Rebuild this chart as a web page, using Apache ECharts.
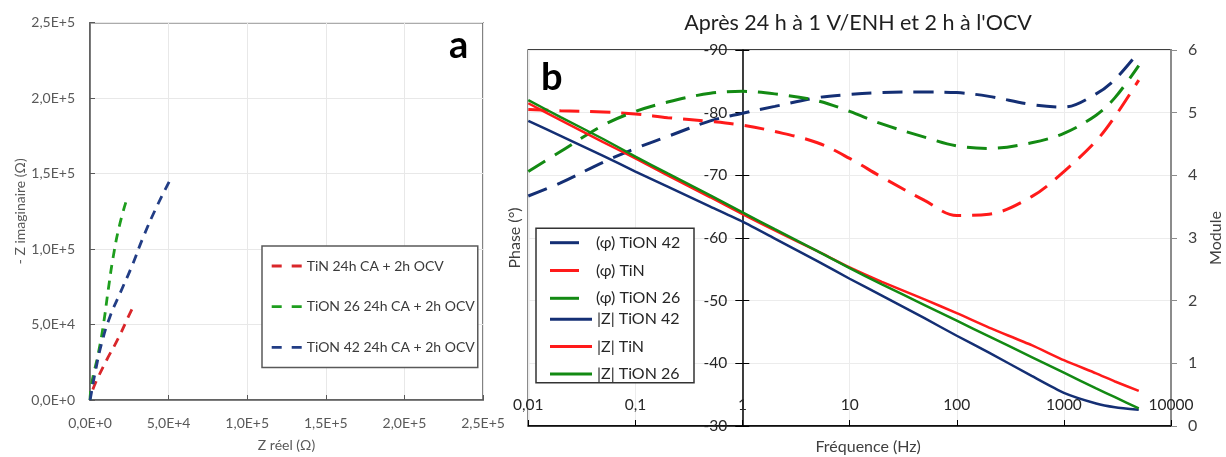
<!DOCTYPE html>
<html><head><meta charset="utf-8">
<script src="https://cdn.jsdelivr.net/npm/echarts@6/dist/echarts.min.js"></script>
<style>html,body{margin:0;padding:0;background:#fff}#c{width:1226px;height:457px}</style>
</head><body><div id="c"></div>
<script>
// ---------- Panel a : Nyquist ----------
const nyqTickLabels = ['0,0E+0','5,0E+4','1,0E+5','1,5E+5','2,0E+5','2,5E+5'];
const nyqNames = ['TiN 24h CA + 2h OCV','TiON 26 24h CA + 2h OCV','TiON 42 24h CA + 2h OCV'];
const nyqTiN   = [[1800,7000],[4300,13200],[10600,26500],[18000,40900],[24400,55200],[28200,63400]];
const nyqTiON26= [[0,0],[1100,11000],[5300,31000],[8500,49700],[11600,73000],[14800,95000],[18600,115000],[22900,131300]];
const nyqTiON42= [[0,0],[450,2200],[3200,17700],[7400,37500],[12700,55200],[19100,70700],[26500,88300],[33900,108000],[42400,128000],[50900,145700]];

// ---------- Panel b : Bode ----------
const freqTickLabels = ['0,01','0,1','1','10','100','1000','10000'];
const freqs = [0.01,0.02,0.05,0.1,0.2,0.5,1,2,5,10,20,50,100,200,500,1000,2000,3000,5000];
const phaseTiON42 = [-66.7,-68.8,-72.1,-74.3,-76.2,-78.7,-79.9,-81.0,-82.4,-82.9,-83.2,-83.3,-83.2,-82.6,-81.3,-80.9,-83.0,-85.3,-89.7];
const phaseTiN    = [-80.5,-80.3,-80.1,-79.8,-79.2,-78.6,-78.0,-77.0,-75.2,-72.7,-69.7,-66.0,-63.6,-63.8,-66.6,-70.6,-75.5,-79.4,-85.2];
const phaseTiON26 = [-70.6,-73.8,-78.0,-80.2,-81.7,-83.1,-83.4,-83.0,-81.9,-80.2,-78.2,-76.1,-74.7,-74.3,-75.2,-76.7,-79.6,-82.4,-87.5];
const modTiON42 = [4.87,4.63,4.31,4.06,3.82,3.50,3.26,2.99,2.63,2.35,2.08,1.72,1.44,1.17,0.80,0.53,0.36,0.30,0.26];
const modTiN    = [5.15,4.88,4.53,4.27,4.00,3.65,3.38,3.12,2.79,2.53,2.30,2.02,1.80,1.57,1.29,1.05,0.84,0.71,0.56];
const modTiON26 = [5.20,4.93,4.58,4.30,4.03,3.68,3.41,3.14,2.79,2.52,2.26,1.93,1.68,1.43,1.10,0.85,0.60,0.46,0.28];
const bodeNamesPhase = ['(φ) TiON 42','(φ) TiN','(φ) TiON 26'];
const bodeNamesMod = ['|Z| TiON 42','|Z| TiN','|Z| TiON 26'];

const FF = 'Lato, "Noto Sans", sans-serif';
const navyA='#223d85', redA='#d9262a', greenA='#1e9e1e';
const navyB='#142f74', redB='#ff1a1a', greenB='#138a13';
const pair = arr => freqs.map((f,i)=>[f, arr[i]]);

const chart = echarts.init(document.getElementById('c'), null, {renderer:'canvas'});
const phaseDash = {type:[20,11], width:3, cap:'butt'};
const nyqDash = {type:[9,7], width:2.8, cap:'butt'};

const option = {
  animation:false,
  backgroundColor:'#fff',
  textStyle:{fontFamily:FF},
  title:[
    {text:"Après 24 h à 1 V/ENH et 2 h à l'OCV", left:858, top:12, textAlign:'center', padding:0,
     textStyle:{fontSize:21.5, fontWeight:'normal', color:'#1f1f1f', fontFamily:FF}},
    {text:'a', left:449, top:27, padding:0, textStyle:{fontSize:38, fontWeight:'bold', color:'#000', fontFamily:FF}},
    {text:'b', left:541, top:59, padding:0, textStyle:{fontSize:38, fontWeight:'bold', color:'#000', fontFamily:FF}}
  ],
  grid:[
    {left:90, top:22.7, width:393, height:377.3, show:true, borderColor:'#595959', borderWidth:1.5, backgroundColor:'transparent', outerBoundsMode:'none', containLabel:false},
    {left:528.3, top:50, width:642.7, height:376, show:true, borderColor:'#000', borderWidth:1.5, backgroundColor:'transparent', outerBoundsMode:'none', containLabel:false}
  ],
  legend:[
    {data:nyqNames, orient:'vertical', left:262, top:246, padding:[13,3,13,9.7], itemWidth:30, itemHeight:14, itemGap:26.7,
     icon:'path://M0,0h10v2.8h-10z M20,0h10v2.8h-10z',
     borderColor:'#595959', borderWidth:1.5, backgroundColor:'#fff', selectedMode:false,
     textStyle:{fontSize:14, color:'#3a3a3a', fontFamily:FF}},
    {data:bodeNamesPhase, orient:'vertical', left:550, top:234.7, padding:0, itemWidth:29, itemHeight:14, itemGap:11.8,
     icon:'path://M0,0h29v3h-29z', selectedMode:false, z:10,
     textStyle:{fontSize:16, color:'#262626', fontFamily:FF, padding:[0,0,0,12]}},
    {data:bodeNamesMod, orient:'vertical', left:550, top:311.3, padding:0, itemWidth:42, itemHeight:14, itemGap:11.3,
     icon:'path://M0,0h42v3h-42z', selectedMode:false, z:10,
     textStyle:{fontSize:16, color:'#262626', fontFamily:FF}}
  ],
  graphic:[
    {type:'rect', z:5, shape:{x:536, y:228.3, width:158, height:154.4}, style:{fill:'#fff', stroke:'#333', lineWidth:1.5}}
  ],
  xAxis:[
    {gridIndex:0, type:'value', min:0, max:250000, interval:50000,
     axisLine:{lineStyle:{color:'#595959', width:1.5}},
     axisTick:{inside:true, length:5, lineStyle:{color:'#595959'}},
     axisLabel:{margin:16, fontSize:14, color:'#595959', fontFamily:FF, formatter:v=>nyqTickLabels[Math.round(v/50000)]},
     splitLine:{show:true, lineStyle:{color:'#e8e8e8'}},
     name:'Z réel (Ω)', nameLocation:'middle', nameGap:38, nameTextStyle:{fontSize:14, color:'#595959', fontFamily:FF}},
    {gridIndex:1, type:'log', logBase:10, min:0.01, max:10000,
     axisLine:{onZero:false, lineStyle:{color:'#000', width:1.5}},
     axisTick:{inside:true, length:6, lineStyle:{color:'#000'}},
     axisLabel:{inside:true, margin:13, fontSize:15.5, color:'#262626', fontFamily:FF,
       formatter:v=>freqTickLabels[Math.round(Math.log10(v))+2]},
     splitLine:{show:true, lineStyle:{color:'#ececec'}},
     name:'Fréquence (Hz)', nameLocation:'middle', nameGap:13,
     nameTextStyle:{fontSize:16, color:'#404040', fontFamily:FF, padding:[0,0,0,37]}}
  ],
  yAxis:[
    {gridIndex:0, type:'value', min:0, max:250000, interval:50000,
     axisLine:{lineStyle:{color:'#595959', width:1.5}},
     axisTick:{inside:true, length:5, lineStyle:{color:'#595959'}},
     axisLabel:{margin:15, fontSize:14, color:'#595959', fontFamily:FF, formatter:v=>nyqTickLabels[Math.round(v/50000)]},
     splitLine:{show:true, lineStyle:{color:'#e8e8e8'}},
     name:'- Z imaginaire (Ω)', nameLocation:'middle', nameGap:63, nameTextStyle:{fontSize:14, color:'#595959', fontFamily:FF}},
    {gridIndex:1, type:'value', min:-90, max:-30, interval:10, inverse:true, position:'left', offset:-214,
     axisLine:{show:true, onZero:false, lineStyle:{color:'#000', width:1.5}},
     axisTick:{show:true, length:7, lineStyle:{color:'#000'}},
     axisLabel:{margin:15, fontSize:15.5, color:'#262626', fontFamily:FF},
     splitLine:{show:true, lineStyle:{color:'#ececec'}},
     name:'Phase (°)', nameLocation:'middle', nameGap:219, nameTextStyle:{fontSize:16, color:'#404040', fontFamily:FF}},
    {gridIndex:1, type:'value', min:-90, max:-30, interval:10, inverse:true, position:'left', offset:-214,
     axisLine:{show:false}, axisTick:{show:true, inside:true, length:7, lineStyle:{color:'#000'}},
     axisLabel:{show:false}, splitLine:{show:false}},
    {gridIndex:1, type:'value', min:0, max:6, interval:1, position:'right',
     axisLine:{show:true, onZero:false, lineStyle:{color:'#8c8c8c', width:2}},
     axisTick:{show:true, length:6, lineStyle:{color:'#8c8c8c'}},
     axisLabel:{margin:17, fontSize:16, color:'#404040', fontFamily:FF},
     splitLine:{show:false},
     name:'Module', nameLocation:'middle', nameGap:36, nameTextStyle:{fontSize:16, color:'#404040', fontFamily:FF}}
  ],
  series:[
    {name:nyqNames[0], type:'line', xAxisIndex:0, yAxisIndex:0, data:nyqTiN, symbol:'none', smooth:true, color:redA, lineStyle:Object.assign({color:redA}, nyqDash)},
    {name:nyqNames[1], type:'line', xAxisIndex:0, yAxisIndex:0, data:nyqTiON26, symbol:'none', smooth:true, color:greenA, lineStyle:Object.assign({color:greenA}, nyqDash)},
    {name:nyqNames[2], type:'line', xAxisIndex:0, yAxisIndex:0, data:nyqTiON42, symbol:'none', smooth:true, color:navyA, lineStyle:Object.assign({color:navyA}, nyqDash)},

    {name:bodeNamesPhase[0], type:'line', xAxisIndex:1, yAxisIndex:1, data:pair(phaseTiON42), symbol:'none', smooth:0.35, color:navyB, lineStyle:Object.assign({color:navyB}, phaseDash)},
    {name:bodeNamesPhase[1], type:'line', xAxisIndex:1, yAxisIndex:1, data:pair(phaseTiN), symbol:'none', smooth:0.35, color:redB, lineStyle:Object.assign({color:redB}, phaseDash)},
    {name:bodeNamesPhase[2], type:'line', xAxisIndex:1, yAxisIndex:1, data:pair(phaseTiON26), symbol:'none', smooth:0.35, color:greenB, lineStyle:Object.assign({color:greenB}, phaseDash)},
    {name:bodeNamesMod[0], type:'line', xAxisIndex:1, yAxisIndex:3, data:pair(modTiON42), symbol:'none', smooth:0.2, color:navyB, lineStyle:{color:navyB, width:2.5}},
    {name:bodeNamesMod[1], type:'line', xAxisIndex:1, yAxisIndex:3, data:pair(modTiN), symbol:'none', smooth:0.2, color:redB, lineStyle:{color:redB, width:2.5}},
    {name:bodeNamesMod[2], type:'line', xAxisIndex:1, yAxisIndex:3, data:pair(modTiON26), symbol:'none', smooth:0.2, color:greenB, lineStyle:{color:greenB, width:2.5}}
  ]
};
chart.setOption(option);
</script></body></html>
